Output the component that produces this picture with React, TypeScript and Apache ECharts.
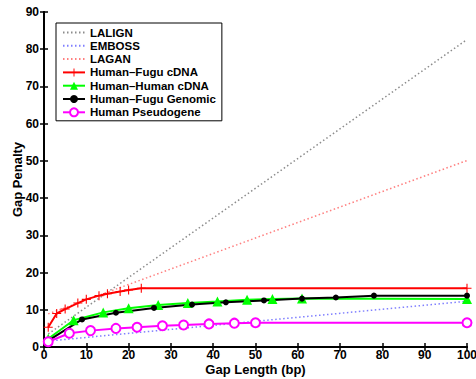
import React, { useEffect, useRef } from "react";
import * as echarts from "echarts";

const xTicks = [0, 10, 20, 30, 40, 50, 60, 70, 80, 90, 100];
const yTicks = [0, 10, 20, 30, 40, 50, 60, 70, 80, 90];
const xTitle = "Gap Length (bp)";
const yTitle = "Gap Penalty";

const laligX = [1, 100];
const laligY = [3.5, 82.6];
const embossX = [1, 100];
const embossY = [1.6, 12.3];
const laganX = [1, 100];
const laganY = [8.9, 50.1];

const fuguCdnaX = [1, 3, 5, 8, 10, 13, 15, 18, 20, 23, 100];
const fuguCdnaY = [5.3, 9.0, 10.2, 11.8, 12.8, 13.8, 14.3, 14.9, 15.3, 15.8, 15.8];

const humanCdnaX = [1, 7, 14, 20, 27, 34, 41, 48, 54, 61, 100];
const humanCdnaY = [2.2, 7.2, 9.3, 10.4, 11.3, 11.8, 12.2, 12.7, 12.9, 13.0, 12.9];

const fuguGenX = [1, 9, 17, 26, 35, 43, 52, 61, 69, 78, 100];
const fuguGenY = [1.7, 7.4, 9.2, 10.5, 11.4, 12.0, 12.5, 13.0, 13.3, 13.8, 13.8];

const pseudoX = [1, 6, 11, 17, 22, 28, 33, 39, 45, 50, 100];
const pseudoY = [1.4, 3.7, 4.4, 5.0, 5.3, 5.7, 5.9, 6.2, 6.4, 6.5, 6.5];

const legendNames = ["LALIGN", "EMBOSS", "LAGAN", "Human–Fugu cDNA", "Human–Human cDNA", "Human–Fugu Genomic", "Human Pseudogene"];

const pairs = (xs: number[], ys: number[]) => xs.map((x, i) => [x, ys[i]]);

const FONT = "'Liberation Sans', Arial, Helvetica, sans-serif";
const PLUS = "path://M-0.6,-5H0.6V-0.6H5V0.6H0.6V5H-0.6V0.6H-5V-0.6H-0.6Z";

export default function App() {
  const ref = useRef<HTMLDivElement>(null);
  useEffect(() => {
    if (!ref.current) return;
    const chart = echarts.init(ref.current, undefined, { renderer: "svg" });
    const axisLine = { show: true, lineStyle: { color: "#000", width: 2 } };
    const axisTick = { show: true, inside: true, length: 4, lineStyle: { color: "#000", width: 1.5 } };
    const label = { color: "#000", fontFamily: FONT, fontWeight: "bold" as const, fontSize: 12, lineHeight: 12 };
    chart.setOption({
      animation: false,
      backgroundColor: "#fff",
      grid: { left: 44, right: 9, top: 12, bottom: 32, containLabel: false, outerBoundsMode: "none" },
      graphic: [
        {
          type: "text",
          x: 255.5,
          y: 369.5,
          style: { text: xTitle, fill: "#000", font: `bold 13px ${FONT}`, textAlign: "center", textVerticalAlign: "middle" },
        },
        {
          type: "text",
          x: 17,
          y: 179.5,
          rotation: Math.PI / 2,
          style: { text: yTitle, fill: "#000", font: `bold 13px ${FONT}`, textAlign: "center", textVerticalAlign: "middle" },
        },
      ],
      legend: {
        orient: "vertical",
        left: 56,
        top: 23,
        padding: [3, 6, 2, 6],
        borderColor: "#000",
        borderWidth: 1,
        borderRadius: 0,
        backgroundColor: "#fff",
        itemWidth: 22,
        itemHeight: 10,
        itemGap: 0.3,
        textStyle: { color: "#000", fontFamily: FONT, fontWeight: "bold", fontSize: 11.5, lineHeight: 13 },
        data: legendNames.map((n, i) => (i < 3 ? { name: n, itemStyle: { opacity: 0 } } : { name: n })),
      },
      xAxis: [
        {
          type: "value",
          min: 0,
          max: 100,
          interval: 10,
          position: "bottom",
          axisLine,
          axisTick,
          splitLine: { show: false },
          axisLabel: { ...label, margin: 2, customValues: xTicks, formatter: (v: number) => String(v) },
        },
        {
          type: "value",
          min: 0,
          max: 100,
          interval: 10,
          position: "top",
          axisLine,
          axisTick,
          splitLine: { show: false },
          axisLabel: { show: false },
        },
      ],
      yAxis: [
        {
          type: "value",
          min: 0,
          max: 90,
          interval: 10,
          position: "left",
          axisLine,
          axisTick,
          splitLine: { show: false },
          axisLabel: { ...label, margin: 5, customValues: yTicks },
        },
        {
          type: "value",
          min: 0,
          max: 90,
          interval: 10,
          position: "right",
          axisLine,
          axisTick,
          splitLine: { show: false },
          axisLabel: { show: false },
        },
      ],
      series: [
        {
          name: legendNames[0],
          type: "line",
          data: pairs(laligX, laligY),
          symbol: "none",
          lineStyle: { color: "#8c8c8c", width: 1.5, type: [1.5, 2.5] },
          itemStyle: { color: "#8c8c8c" },
        },
        {
          name: legendNames[1],
          type: "line",
          data: pairs(embossX, embossY),
          symbol: "none",
          lineStyle: { color: "#7f7fff", width: 1.5, type: [1.5, 2.5] },
          itemStyle: { color: "#7f7fff" },
        },
        {
          name: legendNames[2],
          type: "line",
          data: pairs(laganX, laganY),
          symbol: "none",
          lineStyle: { color: "#ff7f7f", width: 1.5, type: [1.5, 2.5] },
          itemStyle: { color: "#ff7f7f" },
        },
        {
          name: legendNames[3],
          type: "line",
          data: pairs(fuguCdnaX, fuguCdnaY),
          symbol: PLUS,
          symbolSize: 9,
          lineStyle: { color: "#ff0000", width: 2 },
          itemStyle: { color: "#ff0000" },
        },
        {
          name: legendNames[4],
          type: "line",
          data: pairs(humanCdnaX, humanCdnaY),
          symbol: "triangle",
          symbolSize: 10,
          lineStyle: { color: "#00ff00", width: 2 },
          itemStyle: { color: "#00ff00" },
        },
        {
          name: legendNames[5],
          type: "line",
          data: pairs(fuguGenX, fuguGenY),
          symbol: "circle",
          symbolSize: 6,
          lineStyle: { color: "#000000", width: 2 },
          itemStyle: { color: "#000000" },
        },
        {
          name: legendNames[6],
          type: "line",
          data: pairs(pseudoX, pseudoY),
          symbol: "circle",
          symbolSize: 9,
          lineStyle: { color: "#ff00ff", width: 2 },
          itemStyle: { color: "#ffffff", borderColor: "#ff00ff", borderWidth: 2 },
        },
      ],
    });
    return () => chart.dispose();
  }, []);
  return <div ref={ref} style={{ position: "fixed", left: 0, top: 0, width: 476, height: 379 }} />;
}
